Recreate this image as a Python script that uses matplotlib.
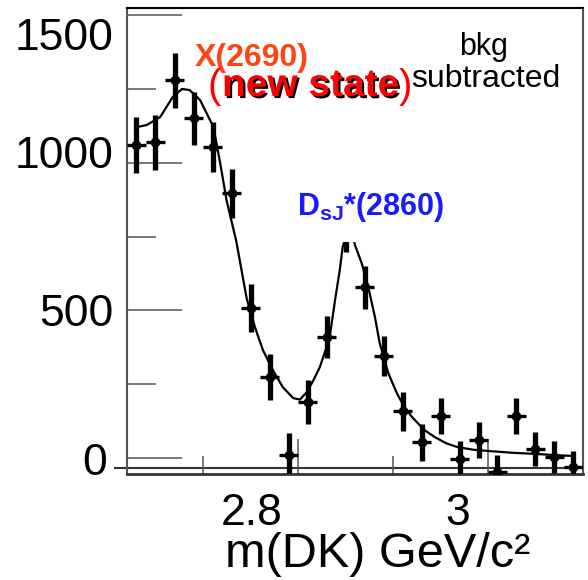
"""Invariant mass spectrum m(DK) with bkg subtracted, two resonance peaks."""
import matplotlib
matplotlib.use('Agg')
import matplotlib.pyplot as plt
import matplotlib.transforms as mtransforms
import matplotlib.patheffects as pe

plt.rcParams['font.family'] = ['Liberation Sans', 'DejaVu Sans']
plt.rcParams['mathtext.fontset'] = 'custom'
plt.rcParams['mathtext.rm'] = 'Liberation Sans'
plt.rcParams['mathtext.bf'] = 'Liberation Sans:bold'

# Histogram bins (GeV/c^2), counts and errors
mass = [2.63, 2.65, 2.67, 2.69, 2.71, 2.73, 2.75, 2.77, 2.79, 2.81, 2.83, 2.85,
        2.87, 2.89, 2.91, 2.93, 2.95, 2.97, 2.99, 3.01, 3.03, 3.05, 3.07, 3.09]
counts = [1060, 1070, 1280, 1151, 1053, 897, 508, 274, 10, 190, 410, 768,
          579, 345, 159, 54, 142, -3, 61, -48, 142, 30, 3, -30]
errors = [95, 93, 93, 90, 86, 83, 80, 78, 75, 75, 72, 70,
          73, 68, 66, 63, 61, 60, 61, 58, 60, 57, 55, 55]
binHalfWidth = 0.01

# Fit curve, sampled by eye along the drawn line
curveMass = [2.631, 2.641, 2.655, 2.668, 2.678, 2.686, 2.697, 2.711, 2.718, 2.725,
             2.735, 2.746, 2.755, 2.763, 2.774, 2.784, 2.795, 2.802, 2.809, 2.816,
             2.823, 2.829, 2.834, 2.839, 2.844, 2.847, 2.851, 2.855, 2.858, 2.860,
             2.867, 2.874, 2.881, 2.886, 2.895, 2.904, 2.912, 2.920, 2.933, 2.944,
             2.956, 2.968, 2.985, 3.000, 3.025, 3.050, 3.070, 3.090]
curveCounts = [1121, 1128, 1155, 1222, 1250, 1246, 1212, 1121, 1000, 870,
               735, 540, 440, 366, 295, 240, 203, 198, 222, 262,
               308, 365, 423, 535, 637, 714, 760, 770, 750, 721,
               660, 579, 477, 389, 288, 220, 172, 139, 95, 71,
               50, 37, 28, 24, 18, 14, 10, 7]

yTicks = [0, 500, 1000, 1500]
yMinorTicks = [250, 750, 1250]
xTicks = [2.8, 3.0]
xTickLabels = ['2.8', '3']
xMinorTicks = [2.7, 2.9]

W, H = 588, 580


def fxy(px, py):
    """Pixel position in the picture -> figure fraction."""
    return px / W, 1 - py / H


fig = plt.figure(figsize=(W / 100, H / 100), dpi=100)
ax = fig.add_axes([127 / W, 1 - 474 / H, (583 - 127) / W, (474 - 8) / H])

# Curve and data points
ax.plot(curveMass, curveCounts, color='black', lw=1.6, zorder=2)
ax.errorbar(mass, counts, yerr=errors, fmt='none', ecolor='black', elinewidth=3.8, capsize=0, zorder=3)
ax.errorbar(mass, counts, xerr=binHalfWidth, fmt='o', color='black', ms=6, elinewidth=2.4, capsize=0, zorder=3)

ax.set_xlim(2.62, 3.10)
ax.set_ylim(-54, 1524)
# Zero line of the original frame, sticking out a bit on the left
ax.axhline(-34, xmin=-0.027, xmax=1.0, color='#333333', lw=1.5, clip_on=False, zorder=1)

# Ticks
ax.set_yticks(yTicks)
ax.set_yticks(yMinorTicks, minor=True)
ax.set_xticks(xTicks)
ax.set_xticklabels(xTickLabels)
ax.set_xticks(xMinorTicks, minor=True)
ax.tick_params(axis='y', which='major', direction='in', length=39.6, width=1.1, color='#555555', pad=10, labelsize=32)
ax.tick_params(axis='y', which='minor', direction='in', length=20.9, width=1.1, color='#555555')
ax.tick_params(axis='x', which='major', direction='in', length=25, width=1.1, color='#555555', pad=14, labelsize=32)
ax.tick_params(axis='x', which='minor', direction='in', length=13, width=1.1, color='#555555')

# The tick labels in the picture are not centred on their ticks
for label, dx in zip(ax.get_xticklabels(), [-46, -30]):
    label.set_transform(label.get_transform() + mtransforms.ScaledTranslation(dx / 100, 0, fig.dpi_scale_trans))
for label, (dx, dy) in zip(ax.get_yticklabels(), [(-6, -1), (0, 0), (0, 11), (0, -19)]):
    label.set_transform(label.get_transform() + mtransforms.ScaledTranslation(dx / 100, dy / 100, fig.dpi_scale_trans))

for side in ['left', 'right']:
    ax.spines[side].set_color('#555555')
    ax.spines[side].set_linewidth(1.5)
ax.spines['top'].set_color('black')
ax.spines['top'].set_linewidth(1.5)
ax.spines['bottom'].set_color('#333333')
ax.spines['bottom'].set_linewidth(2)

# Axis title
fig.text(*fxy(378, 567), 'm(DK) GeV/c\u00b2', fontsize=35, ha='center', va='baseline')

# Annotations
fig.text(*fxy(195, 66), 'X(2690)', color='#ff4411', fontsize=23, fontweight='bold', ha='left', va='baseline')
fig.text(*fxy(207, 98), '(', color='red', fontsize=29, ha='left', va='baseline')
fig.text(*fxy(222, 96), 'new state', color='red', fontsize=28, fontweight='bold', ha='left', va='baseline',
         path_effects=[pe.withSimplePatchShadow(offset=(1.5, -1.5), shadow_rgbFace='black', alpha=1)])
fig.text(*fxy(399, 98), ')', color='red', fontsize=29, ha='left', va='baseline')
fig.text(*fxy(484, 55), 'bkg', fontsize=22, ha='center', va='baseline')
fig.text(*fxy(486, 87), 'subtracted', fontsize=23, ha='center', va='baseline')
fig.text(*fxy(297, 215), r'D$_{\mathbf{sJ}}$*(2860)', color='#1a1aff', fontsize=22, fontweight='bold',
         ha='left', va='baseline', zorder=10,
         bbox=dict(facecolor='white', edgecolor='none', pad=13))

fig.savefig('out.png', dpi=100)
